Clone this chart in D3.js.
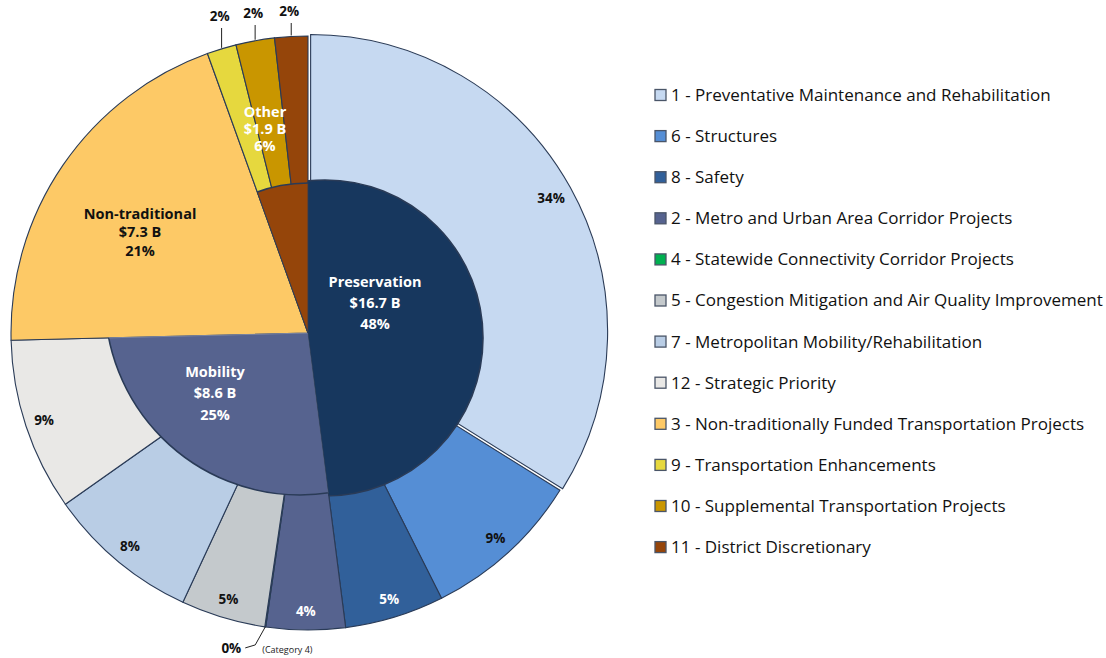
<!DOCTYPE html>
<html><head><meta charset="utf-8">
<style>
body { margin: 0; background: #fff; }
text { font-family: "Open Sans", Lato, sans-serif; }
</style>
</head>
<body>
<svg width="1106" height="658"></svg>
<script src="https://cdn.jsdelivr.net/npm/d3@7/dist/d3.min.js"></script>
<script>

// outer ring: funding categories, in drawing (clockwise) order = legend order
var categories = [
  "1 - Preventative Maintenance and Rehabilitation",
  "6 - Structures",
  "8 - Safety",
  "2 - Metro and Urban Area Corridor Projects",
  "4 - Statewide Connectivity Corridor Projects",
  "5 - Congestion Mitigation and Air Quality Improvement",
  "7 - Metropolitan Mobility/Rehabilitation",
  "12 - Strategic Priority",
  "3 - Non-traditionally Funded Transportation Projects",
  "9 - Transportation Enhancements",
  "10 - Supplemental Transportation Projects",
  "11 - District Discretionary"
];
var shares = [33.9, 8.7, 5.4, 4.3, 0.05, 4.6, 8.3, 9.4, 19.9, 1.6, 2.1, 1.8];
var pctLabels = ["34%", "9%", "5%", "4%", "0%", "5%", "8%", "9%", null, "2%", "2%", "2%"];
var categoryGroup = [0, 0, 0, 1, 1, 1, 1, 1, 2, 3, 3, 3];

// inner pie: program groups
var groups = ["Preservation", "Mobility", "Non-traditional", "Other"];
var groupAmounts = ["$16.7 B", "$8.6 B", "$7.3 B", "$1.9 B"];
var groupPct = ["48%", "25%", "21%", "6%"];

var colors = ["#c6d9f1", "#558ed5", "#31609a", "#56638f", "#00b050", "#c4c9cc",
              "#b9cde5", "#e9e8e6", "#fdc966", "#e6d83e", "#c99600", "#95450a"];
var groupColors = ["#17375e", "#56638f", "#fdc966", "#95450a"];
var whiteLabel = [false, false, true, true, false, false, false, false, false, false, false, false];
var groupWhite = [true, true, false, true];

var svg = d3.select("svg"),
    cx = 308, cy = 333, R = 297;

var defs = svg.append("defs");
var g = svg.append("g").attr("transform", "translate(" + cx + "," + cy + ")");

var pie = d3.pie().sort(null).value(function(d) { return d; });
var outerArcs = pie(shares);

var groupTotals = groups.map(function(_, i) {
  return d3.sum(shares.filter(function(s, j) { return categoryGroup[j] === i; }));
});
var innerArcs = pie(groupTotals);

var arcOuter = d3.arc().innerRadius(0).outerRadius(R);

// outer slices; slice 1 is pulled out a little
g.append("g").selectAll("path")
  .data(outerArcs)
  .enter().append("path")
    .attr("d", arcOuter)
    .attr("fill", function(d, i) { return colors[i]; })
    .attr("stroke", "#2a3b57")
    .attr("stroke-width", 1.1)
    .attr("transform", function(d, i) {
      if (i !== 0) return null;
      var m = (d.startAngle + d.endAngle) / 2;
      return "translate(" + (3 * Math.sin(m)) + "," + (-3 * Math.cos(m)) + ")";
    });

// inner slices: each is a disc (own centre + radius, as in the source) cut to its wedge
var innerDisc = [[17, 5, 158], [-8, -33, 195], [0, 0, 150], [0, 0, 150]];
var innerOrder = [1, 0, 3];
innerOrder.forEach(function(i) {
  var d = innerArcs[i], c = innerDisc[i];
  defs.append("clipPath").attr("id", "wedge" + i)
    .append("path").attr("d", arcOuter(d));
  defs.append("clipPath").attr("id", "disc" + i)
    .append("circle").attr("cx", c[0]).attr("cy", c[1]).attr("r", c[2]);
  var w = g.append("g").attr("clip-path", "url(#wedge" + i + ")");
  w.append("circle")
    .attr("cx", c[0]).attr("cy", c[1]).attr("r", c[2])
    .attr("fill", groupColors[i])
    .attr("stroke", "#2a3b57").attr("stroke-width", 1.6);
  g.append("g").attr("clip-path", "url(#disc" + i + ")")
    .append("path").attr("d", arcOuter(d))
    .attr("fill", "none").attr("stroke", i === 1 ? "#8a93ad" : "#2a3b57").attr("stroke-width", 0.8);
});

// outer percentage labels
var labelArc = d3.arc().innerRadius(278).outerRadius(278);
var outside = [false, false, false, false, true, false, false, false, false, true, true, true];
g.append("g").selectAll("text")
  .data(outerArcs.filter(function(d, i) { return pctLabels[i] && !outside[i]; }))
  .enter().append("text")
    .attr("transform", function(d) { return "translate(" + labelArc.centroid(d) + ")"; })
    .attr("text-anchor", "middle")
    .attr("dy", "0.35em")
    .attr("font-size", 13.5)
    .attr("font-weight", "bold")
    .attr("fill", function(d) { return whiteLabel[d.index] ? "#fff" : "#111"; })
    .text(function(d) { return pctLabels[d.index]; });

// small top slices: labels above the pie with leader lines
var edgeArc = d3.arc().innerRadius(R).outerRadius(R);
var topLabels = outerArcs.filter(function(d) { return outside[d.index] && d.index !== 4; });
var topY = [20, 17, 15];
topLabels.forEach(function(d, k) {
  var p = edgeArc.centroid(d);
  g.append("line")
    .attr("x1", p[0]).attr("y1", p[1] - 1)
    .attr("x2", p[0]).attr("y2", topY[k] + 8 - cy)
    .attr("stroke", "#222").attr("stroke-width", 1);
  g.append("text")
    .attr("x", p[0] - 2).attr("y", topY[k] - cy)
    .attr("dy", "0.1em")
    .attr("text-anchor", "middle")
    .attr("font-size", 13.5).attr("font-weight", "bold").attr("fill", "#111")
    .text(pctLabels[d.index]);
});

// zero slice (category 4) below the pie
var z = edgeArc.centroid(outerArcs[4]);
g.append("path")
  .attr("d", "M" + z[0] + "," + z[1] + "L" + (z[0] - 10) + "," + (z[1] + 18) + "L" + (z[0] - 20) + "," + (z[1] + 21))
  .attr("fill", "none").attr("stroke", "#222").attr("stroke-width", 1);
g.append("text")
  .attr("x", z[0] - 24).attr("y", z[1] + 21)
  .attr("dy", "0.35em")
  .attr("text-anchor", "end")
  .attr("font-size", 13.5).attr("font-weight", "bold").attr("fill", "#111")
  .text(pctLabels[4]);
g.append("text")
  .attr("x", z[0] - 3).attr("y", z[1] + 23)
  .attr("dy", "0.35em")
  .attr("font-size", 9).attr("fill", "#222")
  .text("(Category 4)");

// group labels in the inner pie
var groupLabelAt = [[67, -30], [-93, 60], [-168, -101], [-43, -204]];
var groupLineH = [21, 21.5, 18.5, 17];
groups.forEach(function(name, i) {
  var t = g.append("text")
    .attr("transform", "translate(" + groupLabelAt[i] + ")")
    .attr("text-anchor", "middle")
    .attr("font-size", 14.5)
    .attr("font-weight", "bold")
    .attr("fill", groupWhite[i] ? "#fff" : "#111");
  [name, groupAmounts[i], groupPct[i]].forEach(function(s, k) {
    t.append("tspan").attr("x", 0).attr("y", (k - 1) * groupLineH[i]).attr("dy", "0.35em").text(s);
  });
});

// legend
var legend = svg.append("g").attr("transform", "translate(655,95)")
  .selectAll("g")
  .data(categories)
  .enter().append("g")
    .attr("transform", function(d, i) { return "translate(0," + i * 41.1 + ")"; });

legend.append("rect")
  .attr("x", 0).attr("y", -5.5)
  .attr("width", 11).attr("height", 11)
  .attr("fill", function(d, i) { return colors[i]; })
  .attr("stroke", "#4a5568").attr("stroke-width", 1.3);

var legendText = legend.append("text")
  .attr("x", 16)
  .attr("dy", "0.35em")
  .attr("font-size", 16)
  .attr("fill", "#111")
  .text(function(d) { return d; });

// size the legend font so the first entry spans like the source (~380px)
var w0 = legendText.node().getComputedTextLength();
legendText.attr("font-size", 16 * 380 / w0);

</script>
</body></html>
